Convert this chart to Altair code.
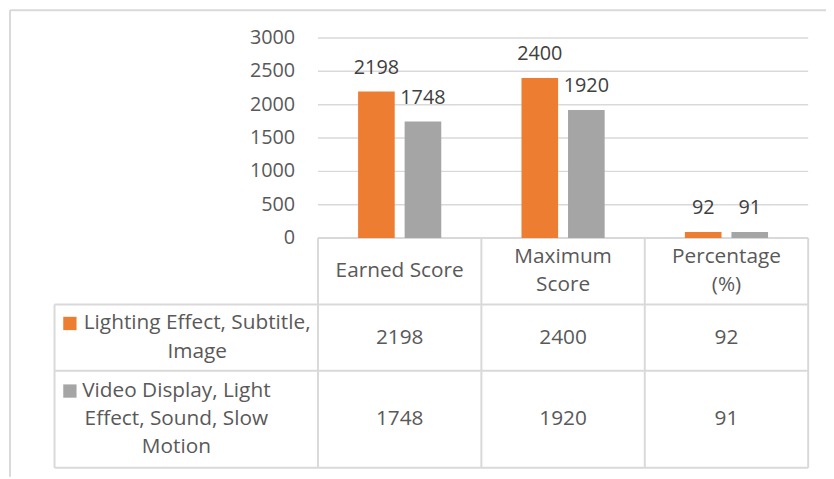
import altair as alt
import pandas as pd

# ---------------- data ----------------
categories = ["Earned Score", "Maximum Score", "Percentage (%)"]
header_labels = ["Earned Score", "Maximum\nScore", "Percentage\n(%)"]
series = ["Lighting Effect, Subtitle, Image",
          "Video Display, Light Effect, Sound, Slow Motion"]
series_labels = ["Lighting Effect, Subtitle,\nImage",
                 "Video Display, Light\nEffect, Sound, Slow\nMotion"]
lighting_values = [2198, 2400, 92]
video_values = [1748, 1920, 91]
y_ticks = [0, 500, 1000, 1500, 2000, 2500, 3000]
colors = ["#ED7D31", "#A5A5A5"]

rows = []
for s, vals in zip(series, [lighting_values, video_values]):
    for c, v in zip(categories, vals):
        rows.append({"category": c, "series": s, "value": v})
df = pd.DataFrame(rows)
df_head = pd.DataFrame({"category": categories, "header": header_labels})
df_ticks = pd.DataFrame({"tick": y_ticks})
df_rows = pd.DataFrame({"series": series, "label": series_labels})

# ---------------- layout ----------------
FONT = "Open Sans"
FS = 20        # axis / data labels
FT = 21        # table text
LH = 28.5
LINE = "#D9D9D9"
PL, PR = 313, 808          # plot left / right (px)
Y0, YTOP = 230, 28         # y pixel of 0 and of 3000
T_HEAD, T_R1, T_R2, T_BOT = 230, 297, 364, 462
T_LEFT = 47
R1C, R2C = (T_R1 + T_R2) / 2, (T_R2 + T_BOT) / 2

XS = alt.Scale(domain=categories, range=[PL, PR], paddingInner=0, paddingOuter=0)
YS = alt.Scale(domain=[0, 3000], range=[Y0, YTOP], nice=False, zero=True)
XOFF = alt.Scale(domain=series, paddingInner=0.213, paddingOuter=0.862)
COL = alt.Scale(domain=series, range=colors)
YROW = alt.Scale(type="point", domain=series, range=[R1C, R2C], padding=0)
# first text line of each row (2 lines in row 1, 3 lines in row 2)
YFIRST = alt.Scale(type="point", domain=series, range=[R1C - LH / 2, R2C - LH], padding=0)

grid = alt.Chart(df_ticks).transform_filter("datum.tick > 0").mark_rule(
    color=LINE, strokeWidth=1.5).encode(
    x=alt.value(PL), x2=alt.value(PR),
    y=alt.Y("tick:Q", scale=YS, axis=None))

tick_labels = alt.Chart(df_ticks).mark_text(
    align="right", baseline="middle", font=FONT, fontSize=FS, color="#595959").encode(
    x=alt.value(290), y=alt.Y("tick:Q", scale=YS, axis=None), text="tick:Q")

bars = alt.Chart(df).mark_bar().encode(
    x=alt.X("category:N", scale=XS, axis=None, sort=categories),
    xOffset=alt.XOffset("series:N", scale=XOFF, sort=series),
    y=alt.Y("value:Q", scale=YS, axis=None),
    color=alt.Color("series:N", scale=COL, legend=None))

bar_labels = alt.Chart(df).mark_text(
    baseline="alphabetic", dy=-18, font=FONT, fontSize=FS, color="#404040").encode(
    x=alt.X("category:N", scale=XS, axis=None, sort=categories),
    xOffset=alt.XOffset("series:N", scale=XOFF, sort=series),
    y=alt.Y("value:Q", scale=YS, axis=None),
    text="value:Q")

head_mid = (T_HEAD + T_R1) / 2
headers = alt.Chart(df_head).transform_calculate(
    ypix=f"{head_mid} - (length(split(datum.header, '\\n')) - 1) * 14"
).mark_text(
    baseline="middle", lineBreak="\n", lineHeight=28, font=FONT, fontSize=FT,
    color="#595959").encode(
    x=alt.X("category:N", scale=XS, axis=None, sort=categories),
    y=alt.Y("ypix:Q", scale=None), text="header:N")

cells = alt.Chart(df).mark_text(
    baseline="middle", font=FONT, fontSize=FT, color="#595959").encode(
    x=alt.X("category:N", scale=XS, axis=None, sort=categories),
    y=alt.Y("series:N", scale=YROW, axis=None),
    text="value:Q")

row_x = [191, 170]
row_label_layers = []
for i, s in enumerate(series):
    row_label_layers.append(
        alt.Chart(df_rows).transform_filter(alt.datum.series == s).mark_text(
            baseline="middle", align="center", lineBreak="\n", lineHeight=LH,
            font=FONT, fontSize=FT, color="#595959").encode(
            x=alt.value(row_x[i]),
            y=alt.Y("series:N", scale=YFIRST, axis=None),
            text="label:N"))

squares = alt.Chart(df_rows).mark_square(size=180, opacity=1).encode(
    x=alt.value(62.5),
    y=alt.Y("series:N", scale=YFIRST, axis=None),
    color=alt.Color("series:N", scale=COL, legend=None))

def hline(y, x1, x2, w=2):
    return alt.Chart(df_ticks).transform_filter("datum.tick == 0").mark_rule(
        color=LINE, strokeWidth=w).encode(x=alt.value(x1), x2=alt.value(x2), y=alt.value(y))

def vline(x, y1, y2, w=2):
    return alt.Chart(df_ticks).transform_filter("datum.tick == 0").mark_rule(
        color=LINE, strokeWidth=w).encode(x=alt.value(x), y=alt.value(y1), y2=alt.value(y2))

col_w = (PR - PL) / 3
table_lines = [
    hline(T_HEAD, PL, PR), hline(T_R1, T_LEFT, PR), hline(T_R2, T_LEFT, PR), hline(T_BOT, T_LEFT, PR),
    vline(PL, T_HEAD, T_BOT), vline(PL + col_w, T_HEAD, T_BOT), vline(PL + 2 * col_w, T_HEAD, T_BOT),
    vline(PR, T_HEAD, T_BOT), vline(T_LEFT, T_R1, T_BOT),
    hline(0, 2, 826), vline(2, 0, 471),
]

chart = alt.layer(
    grid, *table_lines, bars, bar_labels, tick_labels, headers, cells, *row_label_layers, squares
).resolve_scale(
    x="independent", y="independent"
).properties(
    width=826, height=471, autosize="none", padding=0, background="white"
).configure_view(stroke=None)

chart.save("out.html", embed_options={"renderer": "svg", "actions": False})
